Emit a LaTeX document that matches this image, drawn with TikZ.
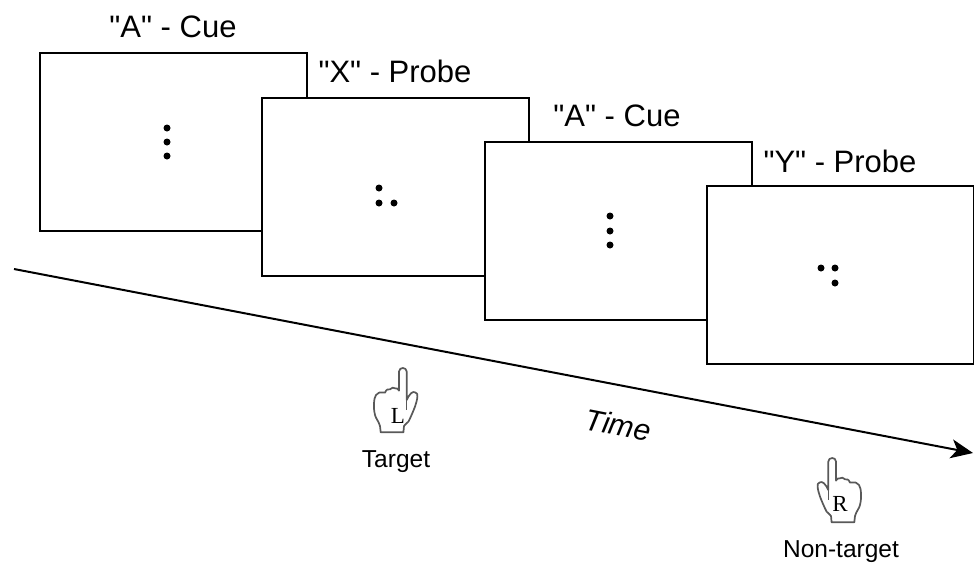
\documentclass[tikz,border=0pt]{standalone}
\usepackage{fontspec}
\setmainfont{Liberation Sans}[Ligatures=TeXOff]
\newfontfamily\serifhand{Liberation Serif}
\usetikzlibrary{arrows.meta}
\tikzset{
  x=1pt,y=-1pt,
  screen/.style={draw=black,line width=2pt,fill=white,minimum width=267pt,minimum height=178pt,inner sep=0pt,outer sep=0pt,anchor=north west},
  captext/.style={inner sep=0pt,font=\fontsize{31}{34}\selectfont},
  subtext/.style={inner sep=0pt,font=\fontsize{24.5}{27}\selectfont},
  keytext/.style={inner sep=0pt,font=\serifhand\fontsize{23}{26}\selectfont},
  dotmark/.style={circle,fill=black,inner sep=0pt,minimum size=7pt},
  hand/.pic={
    \draw[draw=black!65,line width=1.7pt,line join=round,fill=white]
      (-22,66) -- (-22.7,59.7) .. controls (-24,55) and (-27,52) .. (-27.7,48.7)
      .. controls (-28.7,44) and (-29,41) .. (-28.7,37)
      .. controls (-28.5,33) and (-28,31) .. (-26.7,28.7)
      .. controls (-25,26) and (-23,25.8) .. (-17.7,26.3)
      .. controls (-16.5,23) and (-14.5,22.5) .. (-12.7,23)
      .. controls (-11,21) and (-9,21) .. (-7.7,22)
      .. controls (-6,21.5) and (-4.5,22.5) .. (-3.7,24.3)
      -- (-3.7,5.3) .. controls (-3.7,0.5) and (4,0.5) .. (4,5.3)
      -- (4,33.7) .. controls (5,31) and (6.5,29) .. (8.3,27)
      .. controls (10,25.5) and (11,25.5) .. (12.3,26)
      .. controls (14.5,26.5) and (15,28) .. (14.7,30.3)
      .. controls (14.5,33) and (13.5,37) .. (12.3,40.3)
      .. controls (10.5,45) and (8,51) .. (5.7,55.3)
      .. controls (4,57.5) and (2,58) .. (1.3,59.7) -- (0.7,66) -- cycle;
    \draw[draw=black!65,line width=1.3pt] (4,25) -- (4,44);
  }
}
\begin{document}
\begin{tikzpicture}
\useasboundingbox (0,0) rectangle (974,563);
\node[screen] (s1) at (40,53) {};
\node[screen] (s2) at (262,98) {};
\node[screen] (s3) at (485,142) {};
\node[screen] (s4) at (707,186) {};
\node[captext] (c1) at (173,27) {"A" - Cue};
\node[captext] (c2) at (395,71) {"X" - Probe};
\node[captext] (c3) at (617,116) {"A" - Cue};
\node[captext] (c4) at (840,161) {"Y" - Probe};
\node[dotmark] (a1) at (167,128) {};
\node[dotmark] (a2) at (167,142) {};
\node[dotmark] (a3) at (167,156) {};
\node[dotmark] (x1) at (379,188) {};
\node[dotmark] (x2) at (379,203) {};
\node[dotmark] (x3) at (394,203) {};
\node[dotmark] (b1) at (610,216) {};
\node[dotmark] (b2) at (610,231) {};
\node[dotmark] (b3) at (610,245) {};
\node[dotmark] (y1) at (821,268) {};
\node[dotmark] (y2) at (835,268) {};
\node[dotmark] (y3) at (835,283) {};
\coordinate (t0) at (14,269);
\coordinate (t1) at (973,453);
\draw[line width=2pt,-{Stealth[length=22pt,width=19pt,inset=6pt]}] (t0) -- (t1);
\node[inner sep=0pt,rotate=-11,font=\itshape\fontsize{30}{34}\selectfont] (time) at (618,425) {Time};
\pic at (402.7,366.3) {hand};
\pic[xscale=-1] at (832.3,456.3) {hand};
\node[keytext] (kl) at (398,416) {L};
\node[keytext] (kr) at (840,504) {R};
\node[subtext] (tl) at (396,462) {Target};
\node[subtext] (nl) at (841,552) {Non-target};
\end{tikzpicture}
\end{document}
